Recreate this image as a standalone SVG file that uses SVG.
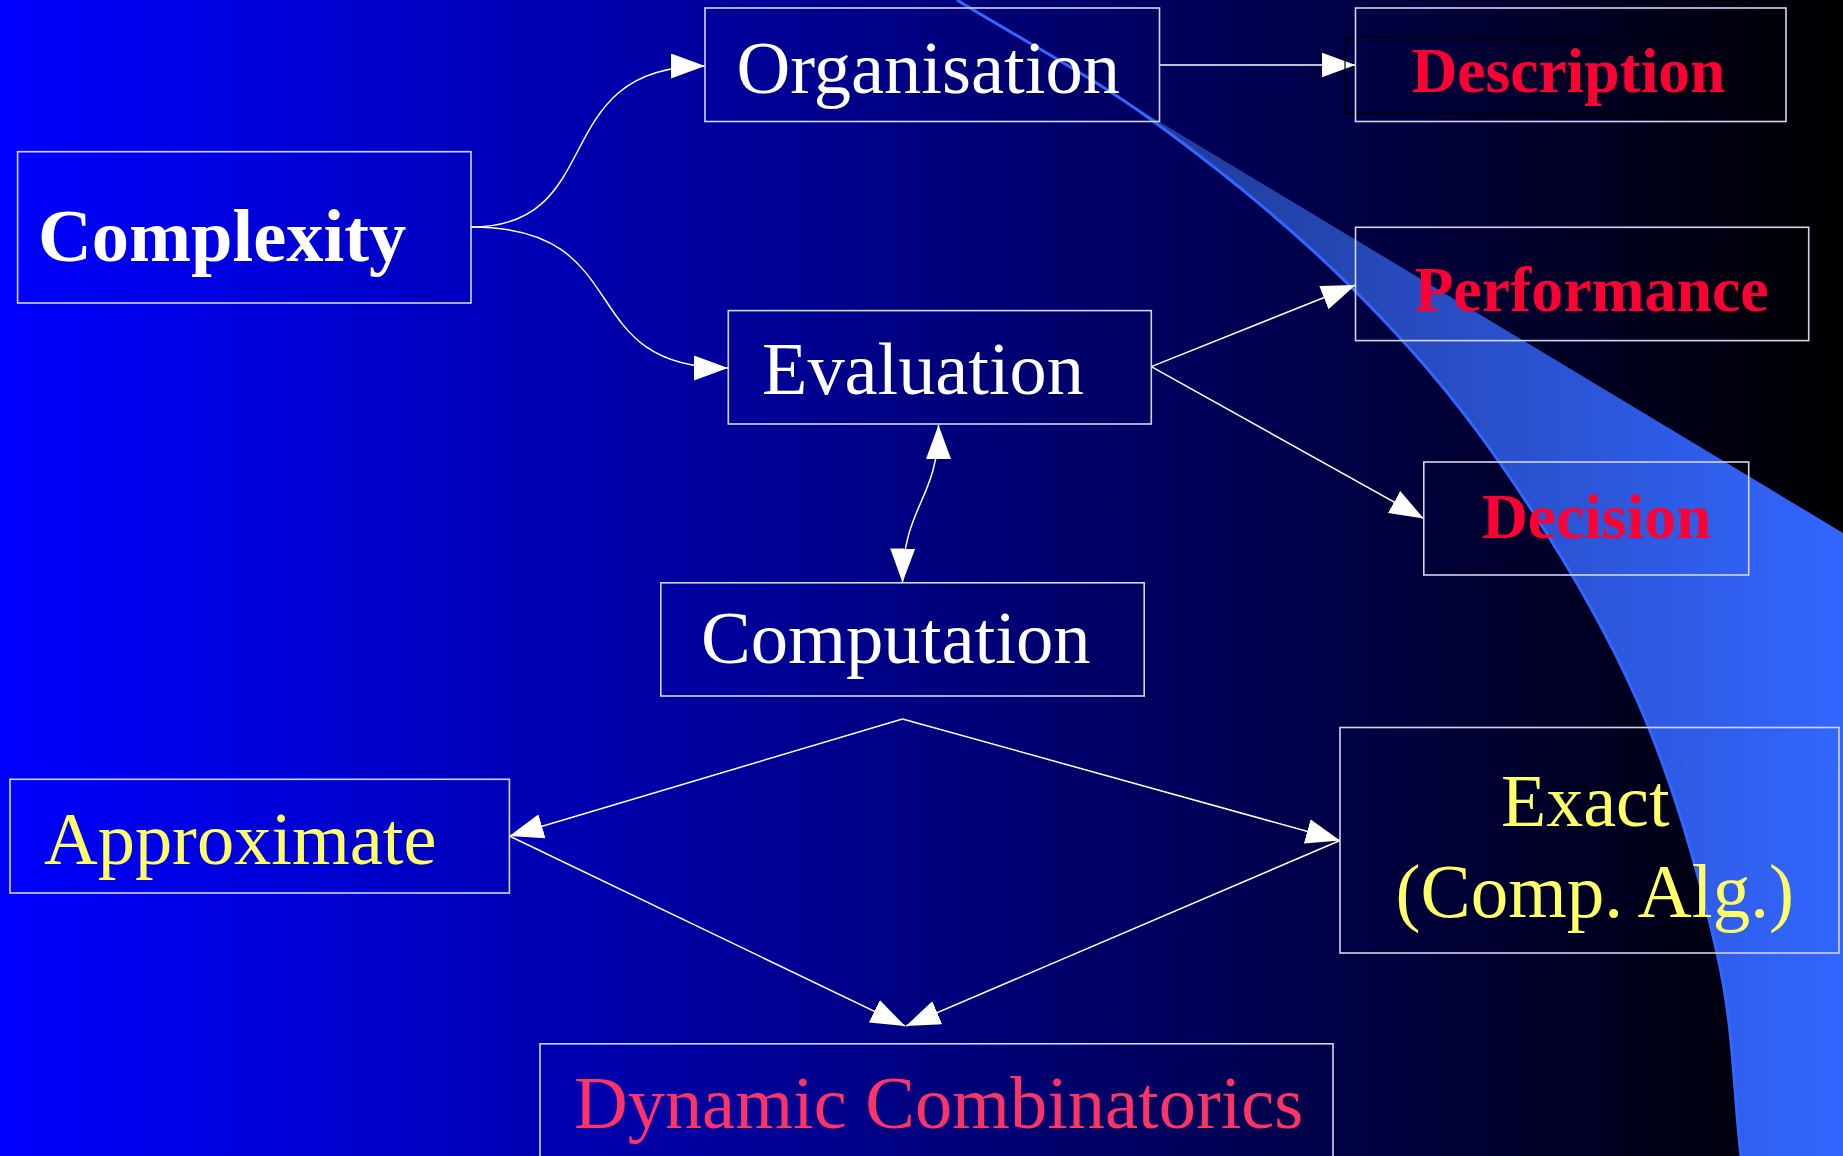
<svg xmlns="http://www.w3.org/2000/svg" width="1843" height="1156" viewBox="0 0 1843 1156">
  <defs>
    <linearGradient id="bg" x1="0" y1="0" x2="1843" y2="0" gradientUnits="userSpaceOnUse">
      <stop offset="0" stop-color="#0000FF"/>
      <stop offset="1" stop-color="#000000"/>
    </linearGradient>
    <linearGradient id="band" x1="957" y1="0" x2="1843" y2="0" gradientUnits="userSpaceOnUse">
      <stop offset="0" stop-color="#1A2F7A"/>
      <stop offset="1" stop-color="#3366FF"/>
    </linearGradient>
    <marker id="ah" viewBox="0 0 34 25" refX="34" refY="12.5" markerWidth="34" markerHeight="25" markerUnits="userSpaceOnUse" orient="auto-start-reverse">
      <path d="M0,0 L34,12.5 L0,25 Z" fill="#FFFFFF"/>
    </marker>
    <style>
      .box { fill: none; stroke: #D4D4F0; stroke-width: 1.6; }
      .edge { fill: none; stroke: #FFFFFF; stroke-width: 1.5; marker-end: url(#ah); }
      .t { font-family: "Liberation Serif", "Times New Roman", serif; }
      .w { fill: #FFFFFF; }
      .r { fill: #FF0033; font-weight: bold; }
      .y { fill: #FFFF66; }
      .p { fill: #FF3366; }
    </style>
  </defs>

  <rect x="0" y="0" width="1843" height="1156" fill="url(#bg)"/>

  <g id="swoosh">
    <path d="M957,0 C1022.3,40.3 1088,73.8 1153,121 C1218,168.2 1289.2,226 1347,283 C1404.8,340 1451.7,393.5 1500,463 C1548.3,532.5 1600.8,618.3 1637,700 C1673.2,781.7 1699.7,877 1717,953 C1734.3,1029 1733,1088.3 1741,1156 L1843,1156 L1843,533 Z" fill="url(#band)"/>
    <path d="M957,0 C1022.3,40.3 1088,73.8 1153,121 C1218,168.2 1289.2,226 1347,283 C1404.8,340 1451.7,393.5 1500,463 C1548.3,532.5 1600.8,618.3 1637,700 C1673.2,781.7 1699.7,877 1717,953 C1734.3,1029 1733,1088.3 1741,1156" fill="none" stroke="#3366FF" stroke-width="3"/>
  </g>

  <g id="connectors">
    <path class="edge" d="M471,227 C610,227 545,66 705,66"/>
    <path class="edge" d="M471,227 C640,227 570,368 728,368"/>
    <path class="edge" d="M1159.5,65 L1355.5,65"/>
    <path class="edge" d="M1151.3,366.6 L1355.5,285"/>
    <path class="edge" d="M1151.3,366.6 L1423.8,518.6"/>
    <path class="edge" d="M938.5,425 C938.5,500 903,505 902.5,582.5" marker-start="url(#ah)"/>
    <path class="edge" d="M902.5,719 L509.4,836"/>
    <path class="edge" d="M902.5,719 L1340,840.5"/>
    <path class="edge" d="M509.4,836 L905,1026"/>
    <path class="edge" d="M1340,840.5 L906,1026"/>
  </g>

  <g id="complexity">
    <rect class="box" x="17.6" y="151.7" width="453.4" height="151.3"/>
    <text class="t w" x="38" y="260.7" font-size="74.5" font-weight="bold">Complexity</text>
  </g>
  <g id="organisation">
    <rect class="box" x="705" y="8" width="454.5" height="113.5"/>
    <text class="t w" x="736.5" y="93.3" font-size="74.5">Organisation</text>
  </g>
  <g id="description">
    <rect x="1345" y="36.7" width="340" height="76.3" fill="none" stroke="#000000" stroke-width="1.2"/>
    <rect class="box" x="1355.5" y="8" width="430.5" height="113.5"/>
    <text class="t r" x="1411.5" y="91.8" font-size="63.5">Description</text>
  </g>
  <g id="evaluation">
    <rect class="box" x="728.3" y="310.6" width="423" height="113.4"/>
    <text class="t w" x="762" y="394" font-size="74.3">Evaluation</text>
  </g>
  <g id="performance">
    <rect class="box" x="1355.5" y="227.3" width="453.2" height="113.3"/>
    <text class="t r" x="1414.4" y="310.7" font-size="63.8">Performance</text>
  </g>
  <g id="decision">
    <rect class="box" x="1423.8" y="462" width="324.9" height="113"/>
    <text class="t r" x="1482" y="537.7" font-size="63.5">Decision</text>
  </g>
  <g id="computation">
    <rect class="box" x="660.8" y="582.8" width="483.4" height="113.2"/>
    <text class="t w" x="701" y="662.6" font-size="74.6">Computation</text>
  </g>
  <g id="approximate">
    <rect class="box" x="10" y="779.3" width="499.4" height="113.7"/>
    <text class="t y" x="44" y="864" font-size="74.4">Approximate</text>
  </g>
  <g id="exact">
    <rect class="box" x="1340" y="727.5" width="499" height="225.5"/>
    <text class="t y" x="1501" y="826" font-size="74">Exact</text>
    <text class="t y" x="1395.6" y="917" font-size="75.1">(Comp. Alg.)</text>
  </g>
  <g id="dynamic-combinatorics">
    <rect class="box" x="540" y="1043.8" width="793" height="140"/>
    <text class="t p" x="574" y="1128" font-size="74.4">Dynamic Combinatorics</text>
  </g>
</svg>
